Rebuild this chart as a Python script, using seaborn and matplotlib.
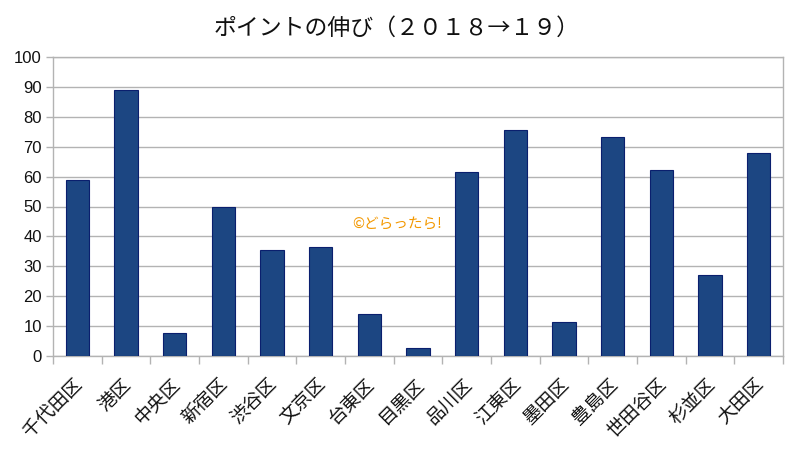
import matplotlib
matplotlib.use("Agg")
import matplotlib.pyplot as plt
import matplotlib.transforms as mtransforms
import seaborn as sns
import pandas as pd
import numpy as np

categories = ["千代田区", "港区", "中央区", "新宿区", "渋谷区", "文京区", "台東区", "目黒区",
              "品川区", "江東区", "墨田区", "豊島区", "世田谷区", "杉並区", "大田区"]
values = [59, 89, 7.7, 50, 35.3, 36.5, 14.2, 2.6, 61.7, 75.7, 11.3, 73.4, 62.1, 27.2, 68.0]
yticks = [0, 10, 20, 30, 40, 50, 60, 70, 80, 90, 100]
title = "ポイントの伸び（２０１８→１９）"
watermark = "©どらったら!"

sns.set_theme(style="white")
plt.rcParams['font.family'] = ['Noto Sans CJK JP', 'DejaVu Sans']

df = pd.DataFrame({"区": categories, "値": values})

fig = plt.figure(figsize=(8, 4.5), dpi=100)
ax = fig.add_axes([53/800, (450-356)/450, 730/800, 299/450])

sns.barplot(data=df, x="区", y="値", color="#1c4682", width=0.48,
            edgecolor="#0a1f6e", linewidth=0.8, saturation=1, ax=ax, zorder=3)

ax.set_xlim(-0.5, len(categories) - 0.5)
ax.set_ylim(0, 100)
ax.set_yticks(yticks)
ax.set_yticklabels([str(v) for v in yticks], family=['Liberation Sans'], fontsize=12, color="#111111")
ax.yaxis.grid(True, color="#b3b3b3", linewidth=1, zorder=0)
ax.xaxis.grid(False)
ax.set_xlabel("")
ax.set_ylabel("")

# x ticks: labels at centers, tick marks at boundaries
ax.set_xticks(range(len(categories)))
ax.set_xticklabels(categories, rotation=45, ha="right", rotation_mode="anchor",
                   fontsize=13.5, color="#111111")
ax.tick_params(axis="x", which="major", length=0, pad=13)
offset = mtransforms.ScaledTranslation(-5/100, 0, fig.dpi_scale_trans)
for lbl in ax.get_xticklabels():
    lbl.set_transform(lbl.get_transform() + offset)
ax.set_xticks(np.arange(-0.5, len(categories), 1.0), minor=True)
ax.tick_params(axis="x", which="minor", length=6, color="#b3b3b3", width=1, bottom=True)
ax.tick_params(axis="y", which="major", length=5, color="#b3b3b3", width=1, left=True, pad=3)

for side in ["left", "bottom", "right", "top"]:
    ax.spines[side].set_visible(True)
    ax.spines[side].set_color("#b3b3b3")
    ax.spines[side].set_linewidth(1)

fig.text(397/800, 1 - 28/450, title, ha="center", va="center", fontsize=16.5, color="#111111")
fig.text(397/800, 1 - 224/450, watermark, ha="center", va="center", fontsize=10.5, color="#f39800")

fig.savefig("out.png", dpi=100)
